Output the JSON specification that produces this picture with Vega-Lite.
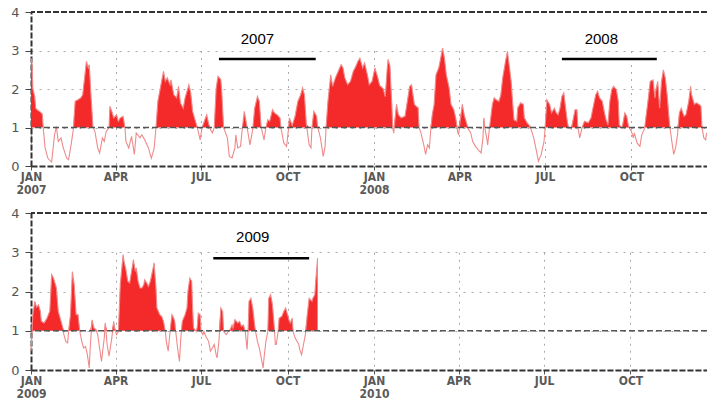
{
  "$schema": "https://vega.github.io/schema/vega-lite/v6.json",
  "padding": {"left": 10, "top": 6, "right": 0, "bottom": 0},
  "background": "white",
  "config": {
    "view": {"stroke": null},
    "font": "DejaVu Sans Condensed",
    "axisX": {"title": null, "tickCount": {"interval": "month", "step": 3},
      "labelExpr": "utcmonth(datum.value) == 0 ? [upper(utcFormat(datum.value, '%b')), utcFormat(datum.value, '%Y')] : upper(utcFormat(datum.value, '%b'))",
      "grid": true, "gridColor": "#aaaaaa", "gridDash": [2, 5], "gridWidth": 1,
      "domainColor": "#333333", "domainWidth": 2, "domainDash": [6, 2],
      "tickColor": "#555555", "tickSize": 4, "labelColor": "#5a5a5a", "labelFontSize": 12, "labelFontWeight": "bold",
      "labelPadding": 1, "labelLineHeight": 13, "labelFlush": false, "labelOverlap": false}
  },
  "spacing": 47,
  "bounds": "flush",
  "datasets": {
    "p1": [
      {"date":"2007-01-01","value":2.8},{"date":"2007-01-02","value":2.7},{"date":"2007-01-03","value":2.0},{"date":"2007-01-05","value":1.8},{"date":"2007-01-06","value":1.5},{"date":"2007-01-08","value":1.45},{"date":"2007-01-11","value":1.4},{"date":"2007-01-13","value":1.35},{"date":"2007-01-14","value":1.0},{"date":"2007-01-16","value":0.47},{"date":"2007-01-19","value":0.2},{"date":"2007-01-23","value":0.1},{"date":"2007-01-26","value":0.8},{"date":"2007-01-28","value":1.02},{"date":"2007-01-30","value":0.64},
      {"date":"2007-02-02","value":0.73},{"date":"2007-02-04","value":0.5},{"date":"2007-02-08","value":0.2},{"date":"2007-02-10","value":0.16},{"date":"2007-02-13","value":0.6},{"date":"2007-02-15","value":0.94},{"date":"2007-02-17","value":1.68},{"date":"2007-02-20","value":1.72},{"date":"2007-02-23","value":1.77},{"date":"2007-02-25","value":1.85},{"date":"2007-02-27","value":2.28},
      {"date":"2007-03-01","value":2.72},{"date":"2007-03-03","value":2.55},{"date":"2007-03-04","value":2.63},{"date":"2007-03-06","value":1.77},{"date":"2007-03-08","value":1.0},{"date":"2007-03-10","value":0.9},{"date":"2007-03-13","value":0.47},{"date":"2007-03-15","value":0.34},{"date":"2007-03-18","value":0.73},{"date":"2007-03-20","value":0.64},{"date":"2007-03-22","value":0.9},{"date":"2007-03-25","value":1.0},{"date":"2007-03-26","value":1.55},{"date":"2007-03-28","value":1.42},{"date":"2007-03-30","value":1.25},
      {"date":"2007-04-02","value":1.33},{"date":"2007-04-04","value":1.16},{"date":"2007-04-06","value":1.25},{"date":"2007-04-09","value":1.29},{"date":"2007-04-11","value":1.0},{"date":"2007-04-12","value":0.64},{"date":"2007-04-15","value":0.47},{"date":"2007-04-18","value":0.77},{"date":"2007-04-21","value":0.3},{"date":"2007-04-23","value":0.86},{"date":"2007-04-27","value":0.73},{"date":"2007-04-29","value":0.81},
      {"date":"2007-05-02","value":0.68},{"date":"2007-05-06","value":0.47},{"date":"2007-05-09","value":0.2},{"date":"2007-05-12","value":0.45},{"date":"2007-05-14","value":1.0},{"date":"2007-05-16","value":1.68},{"date":"2007-05-20","value":2.2},{"date":"2007-05-22","value":2.46},{"date":"2007-05-24","value":2.2},{"date":"2007-05-26","value":2.29},{"date":"2007-05-29","value":2.11},{"date":"2007-05-30","value":2.24},
      {"date":"2007-06-02","value":1.85},{"date":"2007-06-05","value":1.77},{"date":"2007-06-07","value":2.07},{"date":"2007-06-09","value":1.64},{"date":"2007-06-12","value":1.5},{"date":"2007-06-14","value":1.77},{"date":"2007-06-16","value":1.94},{"date":"2007-06-18","value":2.11},{"date":"2007-06-20","value":1.9},{"date":"2007-06-22","value":1.42},{"date":"2007-06-24","value":1.25},{"date":"2007-06-27","value":1.0},{"date":"2007-06-30","value":0.68},
      {"date":"2007-07-02","value":1.0},{"date":"2007-07-07","value":1.33},{"date":"2007-07-09","value":1.1},{"date":"2007-07-11","value":0.95},{"date":"2007-07-13","value":0.86},{"date":"2007-07-15","value":1.0},{"date":"2007-07-17","value":2.0},{"date":"2007-07-19","value":2.33},{"date":"2007-07-22","value":2.25},{"date":"2007-07-23","value":1.94},{"date":"2007-07-25","value":1.0},{"date":"2007-07-29","value":0.73},{"date":"2007-07-31","value":0.25},
      {"date":"2007-08-03","value":0.21},{"date":"2007-08-06","value":0.47},{"date":"2007-08-07","value":0.81},{"date":"2007-08-09","value":0.47},{"date":"2007-08-12","value":0.51},{"date":"2007-08-14","value":1.0},{"date":"2007-08-16","value":1.42},{"date":"2007-08-19","value":1.0},{"date":"2007-08-22","value":0.55},{"date":"2007-08-25","value":0.95},{"date":"2007-08-27","value":1.5},{"date":"2007-08-30","value":1.81},
      {"date":"2007-09-01","value":1.68},{"date":"2007-09-03","value":1.0},{"date":"2007-09-06","value":0.68},{"date":"2007-09-08","value":1.0},{"date":"2007-09-10","value":1.2},{"date":"2007-09-12","value":1.16},{"date":"2007-09-15","value":1.46},{"date":"2007-09-17","value":1.38},{"date":"2007-09-20","value":1.33},{"date":"2007-09-23","value":1.25},{"date":"2007-09-24","value":1.0},{"date":"2007-09-27","value":0.6},{"date":"2007-09-30","value":0.51},
      {"date":"2007-10-02","value":0.95},{"date":"2007-10-03","value":1.25},{"date":"2007-10-06","value":1.05},{"date":"2007-10-09","value":1.29},{"date":"2007-10-12","value":1.68},{"date":"2007-10-15","value":1.85},{"date":"2007-10-17","value":2.03},{"date":"2007-10-19","value":1.85},{"date":"2007-10-21","value":1.1},{"date":"2007-10-24","value":0.55},{"date":"2007-10-26","value":0.47},{"date":"2007-10-27","value":1.0},{"date":"2007-10-29","value":1.42},
      {"date":"2007-11-01","value":1.29},{"date":"2007-11-02","value":1.03},{"date":"2007-11-05","value":0.73},{"date":"2007-11-08","value":0.25},{"date":"2007-11-10","value":0.51},{"date":"2007-11-11","value":1.0},{"date":"2007-11-13","value":1.68},{"date":"2007-11-16","value":2.37},{"date":"2007-11-18","value":2.07},{"date":"2007-11-21","value":2.29},{"date":"2007-11-24","value":2.46},{"date":"2007-11-27","value":2.63},{"date":"2007-11-29","value":2.55},
      {"date":"2007-12-01","value":2.29},{"date":"2007-12-04","value":2.11},{"date":"2007-12-07","value":2.2},{"date":"2007-12-10","value":2.46},{"date":"2007-12-12","value":2.55},{"date":"2007-12-15","value":2.72},{"date":"2007-12-17","value":2.8},{"date":"2007-12-20","value":2.55},{"date":"2007-12-22","value":2.68},{"date":"2007-12-25","value":2.37},{"date":"2007-12-27","value":2.11},{"date":"2007-12-30","value":2.2},
      {"date":"2008-01-02","value":2.55},{"date":"2008-01-05","value":2.3},{"date":"2008-01-07","value":2.1},{"date":"2008-01-11","value":2.0},{"date":"2008-01-13","value":1.8},{"date":"2008-01-15","value":2.5},{"date":"2008-01-16","value":2.77},{"date":"2008-01-18","value":2.6},{"date":"2008-01-20","value":1.6},{"date":"2008-01-21","value":1.0},{"date":"2008-01-22","value":0.85},{"date":"2008-01-25","value":1.6},{"date":"2008-01-27","value":1.33},{"date":"2008-01-30","value":1.25},
      {"date":"2008-02-03","value":1.29},{"date":"2008-02-05","value":1.6},{"date":"2008-02-08","value":2.07},{"date":"2008-02-10","value":2.11},{"date":"2008-02-11","value":1.94},{"date":"2008-02-13","value":1.6},{"date":"2008-02-15","value":1.55},{"date":"2008-02-17","value":1.51},{"date":"2008-02-18","value":1.0},{"date":"2008-02-20","value":0.86},{"date":"2008-02-23","value":0.55},{"date":"2008-02-25","value":0.3},{"date":"2008-02-27","value":0.55},{"date":"2008-02-29","value":0.47},
      {"date":"2008-03-01","value":0.81},{"date":"2008-03-03","value":1.33},{"date":"2008-03-05","value":1.6},{"date":"2008-03-07","value":2.37},{"date":"2008-03-10","value":2.55},{"date":"2008-03-12","value":2.8},{"date":"2008-03-14","value":3.06},{"date":"2008-03-16","value":2.8},{"date":"2008-03-18","value":2.37},{"date":"2008-03-21","value":2.03},{"date":"2008-03-23","value":1.6},{"date":"2008-03-26","value":1.46},{"date":"2008-03-28","value":1.25},{"date":"2008-03-30","value":0.9},{"date":"2008-03-31","value":0.81},
      {"date":"2008-04-04","value":1.6},{"date":"2008-04-06","value":1.33},{"date":"2008-04-08","value":1.16},{"date":"2008-04-10","value":0.98},{"date":"2008-04-13","value":0.86},{"date":"2008-04-15","value":0.64},{"date":"2008-04-18","value":0.51},{"date":"2008-04-21","value":0.42},{"date":"2008-04-24","value":0.34},{"date":"2008-04-26","value":0.73},{"date":"2008-04-27","value":1.25},{"date":"2008-04-28","value":0.98},{"date":"2008-04-30","value":0.73},
      {"date":"2008-05-01","value":0.55},{"date":"2008-05-03","value":1.0},{"date":"2008-05-06","value":1.6},{"date":"2008-05-08","value":1.77},{"date":"2008-05-10","value":1.72},{"date":"2008-05-13","value":1.68},{"date":"2008-05-15","value":1.85},{"date":"2008-05-17","value":2.29},{"date":"2008-05-20","value":2.72},{"date":"2008-05-22","value":2.98},{"date":"2008-05-24","value":2.6},{"date":"2008-05-26","value":2.2},{"date":"2008-05-27","value":1.85},{"date":"2008-05-29","value":1.2},
      {"date":"2008-06-01","value":1.16},{"date":"2008-06-02","value":1.51},{"date":"2008-06-05","value":1.64},{"date":"2008-06-08","value":1.6},{"date":"2008-06-09","value":1.25},{"date":"2008-06-12","value":1.12},{"date":"2008-06-15","value":1.03},{"date":"2008-06-16","value":0.97},{"date":"2008-06-19","value":0.73},{"date":"2008-06-22","value":0.38},{"date":"2008-06-24","value":0.12},{"date":"2008-06-27","value":0.3},{"date":"2008-06-30","value":0.64},
      {"date":"2008-07-01","value":0.95},{"date":"2008-07-03","value":1.72},{"date":"2008-07-06","value":1.6},{"date":"2008-07-08","value":1.38},{"date":"2008-07-11","value":1.5},{"date":"2008-07-13","value":1.38},{"date":"2008-07-15","value":1.33},{"date":"2008-07-17","value":1.5},{"date":"2008-07-19","value":1.81},{"date":"2008-07-21","value":1.9},{"date":"2008-07-23","value":1.5},{"date":"2008-07-25","value":1.12},{"date":"2008-07-26","value":1.0},{"date":"2008-07-29","value":0.96},
      {"date":"2008-08-02","value":1.46},{"date":"2008-08-04","value":1.46},{"date":"2008-08-05","value":1.0},{"date":"2008-08-07","value":0.73},{"date":"2008-08-09","value":0.96},{"date":"2008-08-12","value":1.16},{"date":"2008-08-16","value":1.12},{"date":"2008-08-19","value":1.25},{"date":"2008-08-21","value":1.5},{"date":"2008-08-24","value":1.85},{"date":"2008-08-26","value":1.94},{"date":"2008-08-28","value":1.77},{"date":"2008-08-31","value":1.68},
      {"date":"2008-09-02","value":1.42},{"date":"2008-09-04","value":1.2},{"date":"2008-09-06","value":1.07},{"date":"2008-09-08","value":1.68},{"date":"2008-09-10","value":1.98},{"date":"2008-09-12","value":2.07},{"date":"2008-09-15","value":1.98},{"date":"2008-09-17","value":1.68},{"date":"2008-09-18","value":1.07},{"date":"2008-09-21","value":0.98},{"date":"2008-09-24","value":1.38},{"date":"2008-09-26","value":1.29},{"date":"2008-09-28","value":1.02},
      {"date":"2008-10-01","value":0.9},{"date":"2008-10-03","value":0.73},{"date":"2008-10-04","value":0.86},{"date":"2008-10-07","value":0.6},{"date":"2008-10-10","value":0.51},{"date":"2008-10-12","value":0.81},{"date":"2008-10-15","value":0.97},{"date":"2008-10-19","value":1.77},{"date":"2008-10-21","value":2.2},{"date":"2008-10-24","value":2.24},{"date":"2008-10-26","value":1.77},{"date":"2008-10-27","value":1.98},{"date":"2008-10-29","value":2.2},{"date":"2008-10-31","value":1.5},
      {"date":"2008-11-02","value":2.2},{"date":"2008-11-04","value":2.5},{"date":"2008-11-06","value":2.29},{"date":"2008-11-08","value":1.85},{"date":"2008-11-10","value":1.25},{"date":"2008-11-11","value":1.0},{"date":"2008-11-13","value":0.64},{"date":"2008-11-15","value":0.3},{"date":"2008-11-17","value":0.47},{"date":"2008-11-19","value":0.81},{"date":"2008-11-21","value":1.38},{"date":"2008-11-23","value":1.5},{"date":"2008-11-26","value":1.29},{"date":"2008-11-28","value":1.33},
      {"date":"2008-12-01","value":1.68},{"date":"2008-12-03","value":2.07},{"date":"2008-12-04","value":1.85},{"date":"2008-12-07","value":1.6},{"date":"2008-12-09","value":1.64},{"date":"2008-12-12","value":1.6},{"date":"2008-12-14","value":1.55},{"date":"2008-12-15","value":1.03},{"date":"2008-12-17","value":0.73},{"date":"2008-12-19","value":0.68},{"date":"2008-12-20","value":0.86}
    ],
    "p2": [
      {"date":"2009-01-01","value":0.48},{"date":"2009-01-03","value":1.4},{"date":"2009-01-05","value":1.75},{"date":"2009-01-07","value":1.6},{"date":"2009-01-09","value":1.66},{"date":"2009-01-11","value":1.49},{"date":"2009-01-12","value":1.24},{"date":"2009-01-15","value":1.2},{"date":"2009-01-18","value":1.32},{"date":"2009-01-21","value":1.5},{"date":"2009-01-23","value":2.43},{"date":"2009-01-25","value":2.34},{"date":"2009-01-28","value":2.09},{"date":"2009-01-30","value":1.49},
      {"date":"2009-02-02","value":1.24},{"date":"2009-02-04","value":1.07},{"date":"2009-02-05","value":0.9},{"date":"2009-02-07","value":0.73},{"date":"2009-02-09","value":0.69},{"date":"2009-02-10","value":0.98},{"date":"2009-02-12","value":1.41},{"date":"2009-02-14","value":2.51},{"date":"2009-02-16","value":2.17},{"date":"2009-02-18","value":1.41},{"date":"2009-02-20","value":1.41},{"date":"2009-02-22","value":0.98},{"date":"2009-02-24","value":0.73},{"date":"2009-02-26","value":0.56},{"date":"2009-02-28","value":0.6},
      {"date":"2009-03-02","value":0.39},{"date":"2009-03-04","value":0.05},{"date":"2009-03-05","value":0.56},{"date":"2009-03-07","value":1.28},{"date":"2009-03-09","value":1.07},{"date":"2009-03-11","value":1.03},{"date":"2009-03-13","value":0.9},{"date":"2009-03-15","value":0.56},{"date":"2009-03-17","value":0.22},{"date":"2009-03-20","value":0.82},{"date":"2009-03-21","value":1.2},{"date":"2009-03-23","value":0.65},{"date":"2009-03-25","value":0.35},{"date":"2009-03-28","value":0.82},{"date":"2009-03-30","value":1.24},{"date":"2009-03-31","value":1.07},
      {"date":"2009-04-02","value":0.9},{"date":"2009-04-04","value":0.98},{"date":"2009-04-06","value":2.17},{"date":"2009-04-09","value":2.94},{"date":"2009-04-10","value":2.77},{"date":"2009-04-12","value":2.56},{"date":"2009-04-14","value":2.26},{"date":"2009-04-16","value":2.22},{"date":"2009-04-18","value":2.51},{"date":"2009-04-20","value":2.81},{"date":"2009-04-22","value":2.51},{"date":"2009-04-23","value":2.6},{"date":"2009-04-25","value":2.26},{"date":"2009-04-27","value":2.09},{"date":"2009-04-29","value":2.09},
      {"date":"2009-05-01","value":2.17},{"date":"2009-05-02","value":2.3},{"date":"2009-05-04","value":2.22},{"date":"2009-05-06","value":2.13},{"date":"2009-05-08","value":2.26},{"date":"2009-05-11","value":2.6},{"date":"2009-05-12","value":2.73},{"date":"2009-05-14","value":2.09},{"date":"2009-05-15","value":1.58},{"date":"2009-05-18","value":1.41},{"date":"2009-05-20","value":1.37},{"date":"2009-05-22","value":1.24},{"date":"2009-05-24","value":0.98},{"date":"2009-05-25","value":0.73},{"date":"2009-05-27","value":0.48},{"date":"2009-05-29","value":0.98},{"date":"2009-05-31","value":1.41},
      {"date":"2009-06-01","value":1.37},{"date":"2009-06-03","value":1.24},{"date":"2009-06-04","value":0.98},{"date":"2009-06-06","value":0.56},{"date":"2009-06-08","value":0.22},{"date":"2009-06-09","value":0.65},{"date":"2009-06-10","value":0.98},{"date":"2009-06-11","value":1.24},{"date":"2009-06-14","value":1.41},{"date":"2009-06-16","value":1.58},{"date":"2009-06-17","value":2.0},{"date":"2009-06-19","value":2.34},{"date":"2009-06-21","value":2.26},{"date":"2009-06-22","value":1.58},{"date":"2009-06-23","value":1.07},{"date":"2009-06-26","value":0.98},{"date":"2009-06-27","value":1.11},{"date":"2009-06-28","value":1.45},{"date":"2009-06-30","value":1.41},
      {"date":"2009-07-01","value":0.98},{"date":"2009-07-03","value":0.9},{"date":"2009-07-04","value":0.98},{"date":"2009-07-06","value":0.86},{"date":"2009-07-09","value":0.73},{"date":"2009-07-11","value":0.48},{"date":"2009-07-13","value":0.56},{"date":"2009-07-15","value":0.65},{"date":"2009-07-17","value":0.39},{"date":"2009-07-18","value":0.31},{"date":"2009-07-20","value":0.73},{"date":"2009-07-22","value":1.58},{"date":"2009-07-24","value":1.49},{"date":"2009-07-25","value":0.98},{"date":"2009-07-28","value":0.9},{"date":"2009-07-30","value":0.98},
      {"date":"2009-08-01","value":1.03},{"date":"2009-08-03","value":1.15},{"date":"2009-08-04","value":1.07},{"date":"2009-08-06","value":1.28},{"date":"2009-08-09","value":1.2},{"date":"2009-08-11","value":1.24},{"date":"2009-08-13","value":1.11},{"date":"2009-08-15","value":1.15},{"date":"2009-08-17","value":0.98},{"date":"2009-08-19","value":0.52},{"date":"2009-08-20","value":0.98},{"date":"2009-08-21","value":1.75},{"date":"2009-08-23","value":1.83},{"date":"2009-08-25","value":1.58},{"date":"2009-08-27","value":1.15},{"date":"2009-08-28","value":0.98},{"date":"2009-08-30","value":0.73},
      {"date":"2009-09-01","value":0.56},{"date":"2009-09-03","value":0.31},{"date":"2009-09-05","value":0.05},{"date":"2009-09-06","value":0.31},{"date":"2009-09-08","value":0.73},{"date":"2009-09-10","value":0.98},{"date":"2009-09-11","value":1.83},{"date":"2009-09-13","value":1.92},{"date":"2009-09-15","value":1.66},{"date":"2009-09-17","value":1.07},{"date":"2009-09-18","value":0.65},{"date":"2009-09-19","value":0.65},{"date":"2009-09-21","value":0.98},{"date":"2009-09-22","value":1.32},{"date":"2009-09-25","value":1.37},{"date":"2009-09-27","value":1.49},{"date":"2009-09-29","value":1.58},
      {"date":"2009-10-01","value":1.41},{"date":"2009-10-03","value":1.24},{"date":"2009-10-04","value":1.2},{"date":"2009-10-06","value":1.32},{"date":"2009-10-07","value":0.98},{"date":"2009-10-09","value":0.82},{"date":"2009-10-11","value":0.73},{"date":"2009-10-13","value":0.65},{"date":"2009-10-14","value":0.52},{"date":"2009-10-16","value":0.39},{"date":"2009-10-18","value":0.65},{"date":"2009-10-20","value":0.9},{"date":"2009-10-22","value":1.41},{"date":"2009-10-24","value":1.83},{"date":"2009-10-27","value":1.75},{"date":"2009-10-28","value":1.83},{"date":"2009-10-30","value":1.92},{"date":"2009-10-31","value":2.26},{"date":"2009-11-02","value":2.85}
    ],
    "n1": [
      {"start":"2007-07-20","end":"2007-10-31","mid":"2007-08-30","label":"2007"},
      {"start":"2008-07-19","end":"2008-10-28","mid":"2008-08-30","label":"2008"}
    ],
    "n2": [
      {"start":"2009-07-14","end":"2009-10-24","mid":"2009-08-25","label":"2009"}
    ],
    "one": [{"ref": 1}]
  },
  "vconcat": [
    {
      "width": 676,
      "height": 154,
      "resolve": {"scale": {"y": "independent"}},
      "layer": [
        {
          "data": {"name": "p1"},
          "mark": {"type": "area", "color": "#f42a2a", "interpolate": "linear"},
          "encoding": {
            "x": {"field": "date", "type": "temporal", "title": null,
              "scale": {"type": "utc", "domain": [{"year": 2007, "month": 1, "date": 1, "utc": true}, {"year": 2008, "month": 12, "date": 20, "hours": 10, "utc": true}]}},
            "y": {"field": "value", "type": "quantitative", "scale": {"domain": [1, 4], "range": [115.5, 0], "clamp": true, "zero": false, "nice": false}, "axis": null},
            "y2": {"datum": 1}
          }
        },
        {
          "data": {"name": "p1"},
          "mark": {"type": "line", "color": "#f08a8a", "strokeWidth": 1.1},
          "encoding": {
            "x": {"field": "date", "type": "temporal", "title": null},
            "y": {"field": "value", "type": "quantitative", "scale": {"domain": [0, 4], "nice": false},
              "axis": {"title": null, "values": [0, 1, 2, 3, 4], "grid": true, "gridColor": "#aaaaaa", "gridDash": [2, 6], "gridWidth": 1,
                "domainColor": "#333333", "domainWidth": 2, "domainDash": [6, 2],
                "tickColor": "#444444", "tickSize": 6, "labelColor": "#555555", "labelFontSize": 13, "labelPadding": 6, "labelFont": "DejaVu Sans"}}
          }
        },
        {
          "data": {"name": "one"},
          "mark": {"type": "rule", "color": "#555555", "strokeWidth": 1.5, "strokeDash": [6, 3]},
          "encoding": {"y": {"datum": 1, "type": "quantitative", "scale": {"domain": [0, 4], "nice": false}, "axis": null}}
        },
        {
          "data": {"name": "one"},
          "mark": {"type": "rule", "color": "#333333", "strokeWidth": 2, "strokeDash": [6, 2]},
          "encoding": {"y": {"datum": 4, "type": "quantitative", "scale": {"domain": [0, 4], "nice": false}, "axis": null}}
        },
        {
          "data": {"name": "n1"},
          "mark": {"type": "rule", "color": "black", "strokeWidth": 2.5},
          "encoding": {
            "x": {"field": "start", "type": "temporal", "title": null},
            "x2": {"field": "end"},
            "y": {"datum": 2.78, "type": "quantitative", "scale": {"domain": [0, 4], "nice": false}, "axis": null}
          }
        },
        {
          "data": {"name": "n1"},
          "mark": {"type": "text", "font": "Liberation Sans", "fontSize": 15, "color": "black", "baseline": "middle", "align": "center"},
          "encoding": {
            "x": {"field": "mid", "type": "temporal", "title": null},
            "y": {"datum": 3.3, "type": "quantitative", "scale": {"domain": [0, 4], "nice": false}, "axis": null},
            "text": {"field": "label"}
          }
        }
      ]
    },
    {
      "width": 676,
      "height": 157,
      "resolve": {"scale": {"y": "independent"}},
      "layer": [
        {
          "data": {"name": "p2"},
          "mark": {"type": "area", "color": "#f42a2a", "interpolate": "linear"},
          "encoding": {
            "x": {"field": "date", "type": "temporal", "title": null,
              "scale": {"type": "utc", "domain": [{"year": 2009, "month": 1, "date": 1, "utc": true}, {"year": 2010, "month": 12, "date": 21, "hours": 10, "utc": true}]}},
            "y": {"field": "value", "type": "quantitative", "scale": {"domain": [1, 4], "range": [117.75, 0], "clamp": true, "zero": false, "nice": false}, "axis": null},
            "y2": {"datum": 1}
          }
        },
        {
          "data": {"name": "p2"},
          "mark": {"type": "line", "color": "#f08a8a", "strokeWidth": 1.1},
          "encoding": {
            "x": {"field": "date", "type": "temporal", "title": null},
            "y": {"field": "value", "type": "quantitative", "scale": {"domain": [0, 4], "nice": false},
              "axis": {"title": null, "values": [0, 1, 2, 3, 4], "grid": true, "gridColor": "#aaaaaa", "gridDash": [2, 6], "gridWidth": 1,
                "domainColor": "#333333", "domainWidth": 2, "domainDash": [6, 2],
                "tickColor": "#444444", "tickSize": 6, "labelColor": "#555555", "labelFontSize": 13, "labelPadding": 6, "labelFont": "DejaVu Sans"}}
          }
        },
        {
          "data": {"name": "one"},
          "mark": {"type": "rule", "color": "#555555", "strokeWidth": 1.5, "strokeDash": [6, 3]},
          "encoding": {"y": {"datum": 1, "type": "quantitative", "scale": {"domain": [0, 4], "nice": false}, "axis": null}}
        },
        {
          "data": {"name": "one"},
          "mark": {"type": "rule", "color": "#333333", "strokeWidth": 2, "strokeDash": [6, 2]},
          "encoding": {"y": {"datum": 4, "type": "quantitative", "scale": {"domain": [0, 4], "nice": false}, "axis": null}}
        },
        {
          "data": {"name": "n2"},
          "mark": {"type": "rule", "color": "black", "strokeWidth": 2.5},
          "encoding": {
            "x": {"field": "start", "type": "temporal", "title": null},
            "x2": {"field": "end"},
            "y": {"datum": 2.85, "type": "quantitative", "scale": {"domain": [0, 4], "nice": false}, "axis": null}
          }
        },
        {
          "data": {"name": "n2"},
          "mark": {"type": "text", "font": "Liberation Sans", "fontSize": 15, "color": "black", "baseline": "middle", "align": "center"},
          "encoding": {
            "x": {"field": "mid", "type": "temporal", "title": null},
            "y": {"datum": 3.39, "type": "quantitative", "scale": {"domain": [0, 4], "nice": false}, "axis": null},
            "text": {"field": "label"}
          }
        }
      ]
    }
  ]
}
